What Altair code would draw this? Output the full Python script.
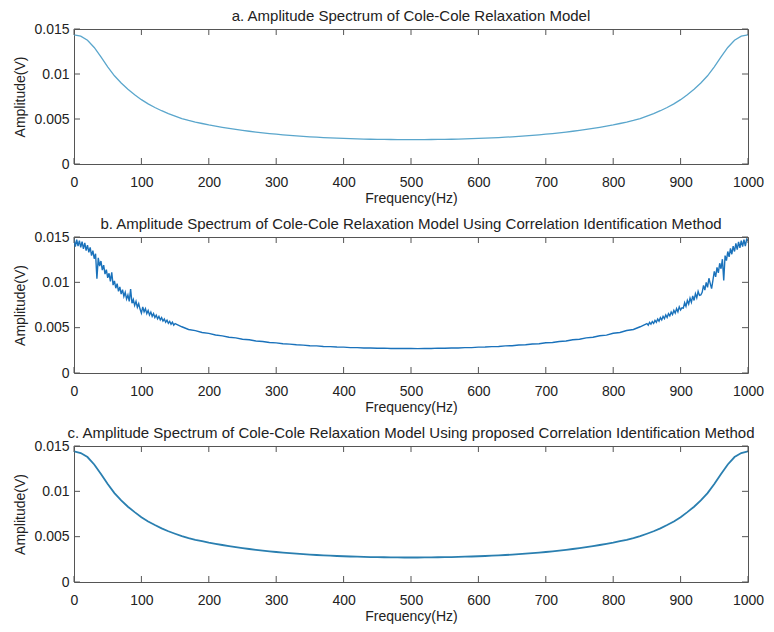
import altair as alt
import pandas as pd

# ---------------- data ----------------
freq_ac = list(range(0, 1001, 10))
amp_a = [
    0.01435, 0.01420, 0.01375, 0.01295, 0.01190, 0.01080, 0.00980, 0.00900, 0.00830, 0.00770,
    0.00715, 0.00668, 0.00628, 0.00592, 0.00560, 0.00532, 0.00505, 0.00484, 0.00465, 0.00450,
    0.00434, 0.00421, 0.00408, 0.00396, 0.00385, 0.00374, 0.00364, 0.00355, 0.00346, 0.00338,
    0.00331, 0.00324, 0.00318, 0.00312, 0.00307, 0.00302, 0.00298, 0.00294, 0.00290, 0.00287,
    0.00284, 0.00281, 0.00279, 0.00277, 0.00275, 0.00274, 0.00273, 0.00272, 0.00271, 0.00270,
    0.00270,
    0.00270, 0.00271, 0.00272, 0.00273, 0.00274, 0.00275, 0.00277, 0.00279, 0.00281, 0.00284,
    0.00287, 0.00290, 0.00294, 0.00298, 0.00302, 0.00307, 0.00312, 0.00318, 0.00324, 0.00331,
    0.00338, 0.00346, 0.00355, 0.00364, 0.00374, 0.00385, 0.00396, 0.00408, 0.00421, 0.00434,
    0.00450, 0.00465, 0.00484, 0.00505, 0.00532, 0.00560, 0.00592, 0.00628, 0.00668, 0.00715,
    0.00770, 0.00830, 0.00900, 0.00980, 0.01080, 0.01190, 0.01295, 0.01375, 0.01420, 0.01435,
]
amp_c = [
    0.01440, 0.01422, 0.01378, 0.01296, 0.01190, 0.01080, 0.00981, 0.00900, 0.00830, 0.00771,
    0.00715, 0.00668, 0.00628, 0.00592, 0.00560, 0.00532, 0.00505, 0.00484, 0.00465, 0.00450,
    0.00434, 0.00421, 0.00408, 0.00396, 0.00385, 0.00374, 0.00364, 0.00355, 0.00346, 0.00338,
    0.00331, 0.00324, 0.00318, 0.00312, 0.00307, 0.00302, 0.00298, 0.00294, 0.00290, 0.00287,
    0.00284, 0.00281, 0.00279, 0.00277, 0.00275, 0.00274, 0.00273, 0.00272, 0.00271, 0.00270,
    0.00270,
    0.00270, 0.00271, 0.00272, 0.00273, 0.00274, 0.00275, 0.00277, 0.00279, 0.00281, 0.00284,
    0.00287, 0.00290, 0.00294, 0.00298, 0.00302, 0.00307, 0.00312, 0.00318, 0.00324, 0.00331,
    0.00338, 0.00346, 0.00355, 0.00364, 0.00374, 0.00385, 0.00396, 0.00408, 0.00421, 0.00434,
    0.00450, 0.00465, 0.00484, 0.00505, 0.00532, 0.00560, 0.00592, 0.00628, 0.00668, 0.00715,
    0.00771, 0.00830, 0.00900, 0.00981, 0.01080, 0.01190, 0.01296, 0.01378, 0.01422, 0.01440,
]

# noisy spectrum (panel b): dense sampling at the noisy ends, coarser in the middle
freq_b = list(range(0, 151, 2)) + list(range(160, 841, 10)) + list(range(850, 1001, 2))
amp_b_low = [
    0.01480, 0.01395, 0.01470, 0.01400, 0.01460, 0.01385, 0.01450, 0.01370, 0.01435, 0.01350,
    0.01410, 0.01330, 0.01385, 0.01295, 0.01350, 0.01260, 0.01315, 0.01040, 0.01270, 0.01180,
    0.01235, 0.01135, 0.01190, 0.01090, 0.01140, 0.01050, 0.01100, 0.01010, 0.01110, 0.00970,
    0.01015, 0.00935, 0.00985, 0.00900, 0.00950, 0.00870, 0.00920, 0.00845, 0.00890, 0.00815,
    0.00860, 0.00790, 0.00925, 0.00770, 0.00810, 0.00745, 0.00790, 0.00725, 0.00765, 0.00705,
    0.00660, 0.00730, 0.00675, 0.00710, 0.00655, 0.00690, 0.00640, 0.00672, 0.00625, 0.00655,
    0.00612, 0.00638, 0.00598, 0.00625, 0.00585, 0.00610, 0.00573, 0.00595, 0.00560, 0.00582,
    0.00548, 0.00570, 0.00538, 0.00560, 0.00528, 0.00545,
]
amp_b_mid = [
    0.00510, 0.00480, 0.00468, 0.00447, 0.00437, 0.00419, 0.00410, 0.00394, 0.00387, 0.00372,
    0.00366, 0.00353, 0.00347, 0.00337, 0.00332, 0.00323, 0.00319, 0.00311, 0.00308, 0.00301,
    0.00299, 0.00293, 0.00291, 0.00286, 0.00285, 0.00280, 0.00280, 0.00276, 0.00276, 0.00273,
    0.00274, 0.00271, 0.00272, 0.00270, 0.00271,
    0.00269, 0.00272, 0.00271, 0.00274, 0.00273, 0.00276, 0.00276, 0.00280, 0.00280, 0.00285,
    0.00286, 0.00291, 0.00293, 0.00299, 0.00301, 0.00309, 0.00311, 0.00320, 0.00322, 0.00333,
    0.00336, 0.00348, 0.00353, 0.00367, 0.00372, 0.00388, 0.00394, 0.00411, 0.00418, 0.00438,
    0.00447, 0.00469, 0.00480, 0.00510,
]
amp_b_high = [
    0.00545, 0.00528, 0.00558, 0.00538, 0.00568, 0.00548, 0.00580, 0.00560, 0.00595, 0.00572,
    0.00610, 0.00585, 0.00625, 0.00600, 0.00640, 0.00612, 0.00655, 0.00630, 0.00672, 0.00645,
    0.00690, 0.00660, 0.00710, 0.00675, 0.00730, 0.00695, 0.00720, 0.00715, 0.00775, 0.00735,
    0.00800, 0.00760, 0.00825, 0.00780, 0.00850, 0.00800, 0.00875, 0.00830, 0.00900, 0.00855,
    0.00860, 0.00890, 0.00965, 0.00915, 0.01000, 0.00945, 0.01045, 0.00985, 0.00930, 0.01025,
    0.01120, 0.01060, 0.01165, 0.01105, 0.01210, 0.01150, 0.01255, 0.01020, 0.01295, 0.01240,
    0.01340, 0.01280, 0.01375, 0.01310, 0.01400, 0.01340, 0.01430, 0.01360, 0.01445, 0.01380,
    0.01460, 0.01395, 0.01470, 0.01400, 0.01475, 0.01460,
]
amp_b = amp_b_low + amp_b_mid + amp_b_high

x_ticks = [0, 100, 200, 300, 400, 500, 600, 700, 800, 900, 1000]
y_ticks = [0, 0.005, 0.01, 0.015]

titles = [
    "a. Amplitude Spectrum of Cole-Cole Relaxation Model",
    "b. Amplitude Spectrum of Cole-Cole Relaxation Model Using Correlation Identification Method",
    "c. Amplitude Spectrum of Cole-Cole Relaxation Model Using proposed Correlation Identification Method",
]
colors = ["#5aa6cc", "#1a72bb", "#2a7fb0"]
widths = [1.3, 1.4, 1.8]
heights = [135, 136, 136]

W = 674
FRAME = "#555555"
TXT = "#222222"
FONT = "Liberation Sans"
TL = 6

xs = alt.Scale(domain=[0, 1000], nice=False, zero=False)
ys = alt.Scale(domain=[0, 0.015], nice=False)

xt_df = pd.DataFrame({"f": x_ticks})
yt_df = pd.DataFrame({"a": y_ticks})


def panel(freq, amp, title, color, sw, H):
    df = pd.DataFrame({"f": freq, "a": amp})
    line = alt.Chart(df).mark_line(color=color, strokeWidth=sw, clip=True).encode(
        x=alt.X("f:Q", scale=xs,
                axis=alt.Axis(values=x_ticks, ticks=False, tickSize=0, domain=False, grid=False,
                              labelPadding=11, title="Frequency(Hz)", titlePadding=2,
                              format="d", labelFlush=False)),
        y=alt.Y("a:Q", scale=ys,
                axis=alt.Axis(values=y_ticks, ticks=False, tickSize=0, domain=False, grid=False,
                              labelPadding=5, title="Amplitude(V)", titlePadding=6,
                              labelExpr="datum.value == 0 ? '0' : format(datum.value, '~g')",
                              labelFlush=False)),
    )
    xb = alt.Chart(xt_df).mark_rule(color=FRAME, strokeWidth=1).encode(
        x=alt.X("f:Q", scale=xs, axis=None), y=alt.value(H), y2=alt.value(H - TL))
    xtop = alt.Chart(xt_df).mark_rule(color=FRAME, strokeWidth=1).encode(
        x=alt.X("f:Q", scale=xs, axis=None), y=alt.value(0), y2=alt.value(TL))
    yl = alt.Chart(yt_df).mark_rule(color=FRAME, strokeWidth=1).encode(
        y=alt.Y("a:Q", scale=ys, axis=None), x=alt.value(0), x2=alt.value(TL))
    yr = alt.Chart(yt_df).mark_rule(color=FRAME, strokeWidth=1).encode(
        y=alt.Y("a:Q", scale=ys, axis=None), x=alt.value(W), x2=alt.value(W - TL))
    return alt.layer(line, xb, xtop, yl, yr).resolve_axis(
        x="independent", y="independent"
    ).properties(
        width=W, height=H,
        title=alt.Title(title, anchor="middle", frame="group", offset=-3, dy=-1,
                        fontSize=15, fontWeight="normal", color=TXT, font=FONT),
    )


chart = alt.vconcat(
    panel(freq_ac, amp_a, titles[0], colors[0], widths[0], heights[0]),
    panel(freq_b, amp_b, titles[1], colors[1], widths[1], heights[1]),
    panel(freq_ac, amp_c, titles[2], colors[2], widths[2], heights[2]),
    spacing=10,
).properties(
    padding={"left": 5, "top": 0, "right": 0, "bottom": 0},
    background="white",
).configure_view(
    stroke=FRAME, strokeWidth=1
).configure_axis(
    labelFont=FONT, titleFont=FONT, labelFontSize=14, titleFontSize=14,
    labelColor=TXT, titleColor=TXT, titleFontWeight="normal",
)

chart.save("out.html", embed_options={"renderer": "svg", "actions": False})
